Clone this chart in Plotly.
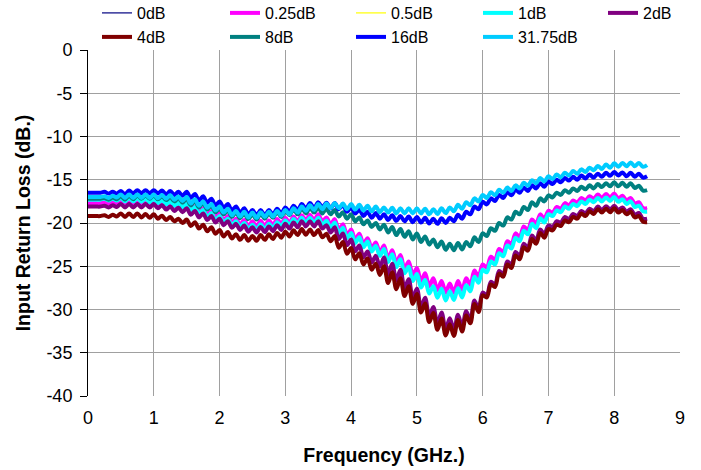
import numpy as np
import plotly.graph_objects as go

# Frequency sweep grid (GHz), one sample every 0.0625 GHz from 0 to 8.5
FREQ_GHZ = list(np.round(np.arange(137) * 0.0625, 4))

DB_025 = [
    -17.7, -17.7, -17.7, -17.7, -17.6, -17.8, -17.55, -17.75, -17.4, -17.8, -17.4, -17.8, -17.4, -17.8, -17.4, -17.8,
    -17.4, -17.85, -17.5, -17.95, -17.6, -18.1, -17.75, -18.25, -17.8, -18.55, -18.05, -18.8, -18.3, -19.05, -18.6, -19.35,
    -18.9, -19.65, -19.2, -19.95, -19.5, -20.2, -19.65, -20.35, -19.8, -20.4, -19.75, -20.35, -19.7, -20.25, -19.55, -20.1,
    -19.4, -19.95, -19.25, -19.8, -19.1, -19.7, -19.05, -19.65, -19.0, -19.8, -19.35, -20.15, -19.55, -20.75, -20.15, -21.35,
    -20.75, -21.9, -21.25, -22.4, -21.75, -22.9, -22.25, -23.4, -22.6, -24.1, -23.15, -24.6, -23.7, -25.3, -24.45, -26.0,
    -25.2, -26.7, -25.8, -27.3, -26.4, -27.75, -26.7, -28.05, -27.0, -28.05, -26.7, -27.75, -26.4, -27.15, -25.5, -26.25,
    -24.8, -25.15, -23.9, -24.25, -23.0, -23.35, -22.1, -22.45, -21.2, -21.6, -20.4, -20.8, -19.6, -20.1, -19.0, -19.5,
    -18.6, -18.8, -18.15, -18.35, -17.7, -17.95, -17.4, -17.65, -17.1, -17.4, -16.9, -17.2, -16.7, -17.1, -16.65, -17.05,
    -16.6, -17.15, -16.85, -17.4, -17.1, -17.75, -17.6, -18.25, -18.3,
]
DB_1 = [
    -17.3, -17.3, -17.3, -17.3, -17.2, -17.4, -17.2, -17.4, -17.1, -17.5, -17.1, -17.5, -17.1, -17.55, -17.15, -17.6,
    -17.2, -17.7, -17.35, -17.85, -17.5, -18.0, -17.7, -18.2, -17.8, -18.6, -18.15, -18.95, -18.5, -19.3, -18.85, -19.65,
    -19.2, -19.95, -19.5, -20.25, -19.8, -20.5, -20.0, -20.7, -20.2, -20.8, -20.15, -20.75, -20.1, -20.6, -19.9, -20.4,
    -19.7, -20.25, -19.55, -20.1, -19.4, -20.0, -19.4, -20.0, -19.4, -20.2, -19.75, -20.55, -19.95, -21.15, -20.55, -21.75,
    -21.15, -22.3, -21.65, -22.8, -22.15, -23.3, -22.65, -23.8, -23.0, -24.5, -23.6, -25.1, -24.2, -25.8, -25.05, -26.7,
    -25.9, -27.45, -26.6, -28.15, -27.3, -28.65, -27.6, -28.95, -27.9, -28.9, -27.55, -28.6, -27.2, -27.9, -26.2, -26.9,
    -25.4, -25.7, -24.45, -24.8, -23.5, -23.85, -22.6, -22.95, -21.7, -22.1, -20.9, -21.3, -20.1, -20.6, -19.45, -19.95,
    -19.0, -19.2, -18.55, -18.75, -18.1, -18.35, -17.8, -18.05, -17.5, -17.8, -17.3, -17.6, -17.1, -17.5, -17.05, -17.45,
    -17.0, -17.55, -17.25, -17.8, -17.5, -18.15, -18.0, -18.65, -18.7,
]
DB_2 = [
    -18.1, -18.1, -18.1, -18.1, -18.0, -18.2, -17.95, -18.15, -17.8, -18.2, -17.8, -18.2, -17.8, -18.2, -17.8, -18.2,
    -17.8, -18.3, -17.95, -18.45, -18.1, -18.6, -18.25, -18.75, -18.3, -19.05, -18.6, -19.35, -18.9, -19.65, -19.2, -19.95,
    -19.5, -20.25, -19.8, -20.55, -20.1, -20.8, -20.3, -21.0, -20.5, -21.1, -20.45, -21.05, -20.4, -20.95, -20.25, -20.8,
    -20.1, -20.65, -19.95, -20.5, -19.8, -20.4, -19.8, -20.4, -19.8, -20.65, -20.25, -21.1, -20.5, -21.85, -21.2, -22.55,
    -21.9, -23.25, -22.6, -23.95, -23.3, -24.55, -23.8, -25.05, -24.0, -25.95, -24.7, -26.65, -25.4, -27.55, -26.5, -28.65,
    -27.6, -29.75, -28.65, -30.8, -29.7, -31.65, -30.35, -32.3, -31.0, -32.4, -30.6, -32.0, -30.2, -31.2, -28.95, -29.95,
    -28.05, -28.35, -26.8, -27.1, -25.55, -25.9, -24.45, -24.8, -23.35, -23.8, -22.4, -22.85, -21.45, -22.0, -20.75, -21.3,
    -20.3, -20.45, -19.8, -19.95, -19.3, -19.55, -18.95, -19.2, -18.6, -18.9, -18.35, -18.65, -18.1, -18.5, -18.05, -18.45,
    -18.0, -18.5, -18.2, -18.7, -18.4, -19.05, -18.85, -19.5, -19.5,
]
DB_4 = [
    -19.2, -19.2, -19.2, -19.2, -19.1, -19.3, -19.05, -19.25, -18.9, -19.3, -18.9, -19.3, -18.9, -19.35, -18.95, -19.4,
    -19.0, -19.5, -19.15, -19.65, -19.3, -19.8, -19.5, -20.0, -19.6, -20.35, -19.9, -20.65, -20.2, -20.95, -20.5, -21.25,
    -20.8, -21.55, -21.05, -21.8, -21.3, -21.95, -21.4, -22.05, -21.5, -22.05, -21.4, -21.95, -21.3, -21.85, -21.15, -21.7,
    -21.0, -21.55, -20.85, -21.4, -20.7, -21.35, -20.75, -21.4, -20.8, -21.65, -21.25, -22.1, -21.5, -22.85, -22.2, -23.55,
    -22.9, -24.2, -23.5, -24.8, -24.1, -25.4, -24.7, -26.0, -25.0, -26.95, -25.7, -27.65, -26.4, -28.45, -27.3, -29.35,
    -28.2, -30.35, -29.3, -31.45, -30.4, -32.35, -31.05, -33.0, -31.7, -33.05, -31.2, -32.55, -30.7, -31.6, -29.35, -30.3,
    -28.35, -28.6, -27.1, -27.4, -25.85, -26.2, -24.8, -25.2, -23.75, -24.2, -22.8, -23.2, -21.85, -22.4, -21.15, -21.7,
    -20.7, -20.85, -20.2, -20.35, -19.7, -19.9, -19.3, -19.5, -18.9, -19.2, -18.65, -18.95, -18.4, -18.8, -18.35, -18.75,
    -18.3, -18.8, -18.5, -19.0, -18.7, -19.35, -19.2, -19.85, -19.9,
]
DB_8 = [
    -17.2, -17.2, -17.2, -17.2, -17.1, -17.3, -17.05, -17.25, -16.9, -17.3, -16.85, -17.25, -16.8, -17.2, -16.8, -17.2,
    -16.8, -17.25, -16.9, -17.35, -17.0, -17.5, -17.15, -17.65, -17.2, -17.95, -17.45, -18.2, -17.7, -18.45, -18.0, -18.75,
    -18.3, -19.0, -18.55, -19.3, -18.8, -19.45, -18.9, -19.55, -19.0, -19.6, -18.95, -19.5, -18.9, -19.4, -18.75, -19.3,
    -18.6, -19.1, -18.45, -19.0, -18.3, -18.9, -18.25, -18.8, -18.2, -18.9, -18.35, -19.0, -18.5, -19.25, -18.75, -19.5,
    -19.0, -19.8, -19.35, -20.15, -19.7, -20.45, -20.0, -20.75, -20.2, -21.1, -20.45, -21.4, -20.7, -21.6, -20.95, -21.9,
    -21.2, -22.2, -21.55, -22.5, -21.9, -22.8, -22.15, -23.1, -22.4, -23.15, -22.3, -23.05, -22.2, -22.7, -21.65, -22.2,
    -21.2, -21.5, -20.6, -20.9, -20.0, -20.3, -19.35, -19.6, -18.7, -19.0, -18.15, -18.5, -17.6, -18.0, -17.15, -17.5,
    -16.8, -17.05, -16.5, -16.75, -16.2, -16.5, -16.0, -16.3, -15.8, -16.1, -15.65, -16.0, -15.5, -15.85, -15.4, -15.75,
    -15.3, -15.75, -15.35, -15.8, -15.4, -15.95, -15.7, -16.25, -16.2,
]
DB_16 = [
    -16.5, -16.5, -16.5, -16.5, -16.4, -16.6, -16.4, -16.6, -16.3, -16.7, -16.25, -16.6, -16.2, -16.6, -16.2, -16.6,
    -16.2, -16.6, -16.25, -16.7, -16.3, -16.75, -16.4, -16.85, -16.4, -17.1, -16.65, -17.4, -16.9, -17.65, -17.2, -17.95,
    -17.5, -18.25, -17.8, -18.55, -18.1, -18.8, -18.3, -19.0, -18.5, -19.1, -18.5, -19.1, -18.5, -19.0, -18.35, -18.9,
    -18.2, -18.7, -18.0, -18.5, -17.8, -18.35, -17.7, -18.25, -17.6, -18.2, -17.65, -18.3, -17.7, -18.4, -17.95, -18.7,
    -18.2, -18.9, -18.45, -19.2, -18.7, -19.4, -18.85, -19.5, -19.0, -19.65, -19.1, -19.75, -19.2, -19.8, -19.25, -19.9,
    -19.3, -19.95, -19.4, -20.05, -19.5, -20.1, -19.45, -20.0, -19.4, -19.8, -19.05, -19.5, -18.7, -19.0, -18.1, -18.4,
    -17.55, -17.85, -17.15, -17.45, -16.75, -17.1, -16.45, -16.8, -16.15, -16.5, -15.9, -16.3, -15.65, -16.0, -15.4, -15.8,
    -15.2, -15.5, -15.0, -15.3, -14.8, -15.1, -14.65, -15.0, -14.5, -14.85, -14.4, -14.75, -14.3, -14.65, -14.2, -14.55,
    -14.1, -14.5, -14.15, -14.6, -14.2, -14.65, -14.3, -14.75, -14.6,
]
DB_3175 = [
    -17.0, -17.0, -17.0, -17.0, -16.9, -17.1, -16.85, -17.05, -16.7, -17.1, -16.7, -17.1, -16.7, -17.1, -16.7, -17.1,
    -16.7, -17.15, -16.75, -17.2, -16.8, -17.3, -16.95, -17.45, -17.0, -17.75, -17.25, -18.0, -17.5, -18.25, -17.8, -18.55,
    -18.1, -18.8, -18.35, -19.1, -18.6, -19.25, -18.7, -19.35, -18.8, -19.4, -18.75, -19.3, -18.7, -19.25, -18.6, -19.15,
    -18.5, -19.0, -18.3, -18.8, -18.1, -18.6, -17.95, -18.5, -17.8, -18.4, -17.75, -18.3, -17.7, -18.3, -17.75, -18.4,
    -17.8, -18.45, -17.9, -18.55, -18.0, -18.65, -18.1, -18.75, -18.2, -18.8, -18.25, -18.9, -18.3, -18.9, -18.3, -18.9,
    -18.3, -18.9, -18.35, -19.0, -18.4, -18.95, -18.3, -18.85, -18.2, -18.65, -17.9, -18.35, -17.6, -17.95, -17.15, -17.5,
    -16.75, -17.1, -16.45, -16.8, -16.15, -16.5, -15.9, -16.3, -15.65, -16.0, -15.35, -15.7, -15.05, -15.4, -14.8, -15.2,
    -14.6, -14.9, -14.4, -14.7, -14.2, -14.5, -14.0, -14.3, -13.8, -14.1, -13.6, -13.9, -13.4, -13.75, -13.25, -13.6,
    -13.1, -13.5, -13.05, -13.45, -13.0, -13.45, -13.05, -13.5, -13.3,
]
# 0 dB and 0.5 dB states overlap the 0.25 dB and 1 dB traces (hidden beneath them)
DB_0 = list(DB_025)
DB_05 = list(DB_1)

SERIES_NAMES = ["0dB", "0.25dB", "0.5dB", "1dB", "2dB", "4dB", "8dB", "16dB", "31.75dB"]
SERIES_VALUES = [DB_0, DB_025, DB_05, DB_1, DB_2, DB_4, DB_8, DB_16, DB_3175]
SERIES_COLORS = ["#000080", "#FF00FF", "#FFFF00", "#00FFFF", "#800080",
                 "#800000", "#008080", "#0000FF", "#00CCFF"]
SERIES_WIDTHS = [1.2, 4, 1.2, 4, 4, 4, 4, 4, 4]

Y_TICK_VALUES = [-40, -35, -30, -25, -20, -15, -10, -5, 0]
Y_TICK_LABELS = ["-40", "-35", "-30", "-25", "-20", "-15", "-10", "-5", "0"]

FONT = "Arial, 'Liberation Sans', sans-serif"

# legend entries laid out in a 5-column grid (left edge px, row centre px)
LEG_COL_PX = [97, 225, 351, 478, 603]
LEG_ROW_PX = [13, 37]
PLOT_L, PLOT_R, PLOT_T, PLOT_B = 88, 680, 50, 396

fig = go.Figure()
layout_legends = {}
for i, (name, vals, color, w) in enumerate(zip(SERIES_NAMES, SERIES_VALUES, SERIES_COLORS, SERIES_WIDTHS)):
    assert len(vals) == len(FREQ_GHZ), name
    key = "legend" if i == 0 else f"legend{i + 1}"
    fig.add_trace(go.Scatter(x=FREQ_GHZ, y=vals, name=name, mode="lines",
                             line=dict(color=color, width=w, shape="spline", smoothing=1.0),
                             legend=key))
    col, row = i % 5, i // 5
    layout_legends[key] = dict(
        x=(LEG_COL_PX[col] - PLOT_L) / (PLOT_R - PLOT_L),
        y=(PLOT_B - LEG_ROW_PX[row]) / (PLOT_B - PLOT_T),
        xanchor="left", yanchor="middle",
        font=dict(size=16, family=FONT, color="black"),
        bgcolor="rgba(0,0,0,0)", borderwidth=0,
    )

fig.update_layout(
    width=701, height=470,
    margin=dict(l=PLOT_L, r=701 - PLOT_R, t=PLOT_T, b=470 - PLOT_B, autoexpand=False),
    paper_bgcolor="white", plot_bgcolor="white",
    font=dict(family=FONT, color="black", size=18),
    showlegend=True,
    xaxis=dict(range=[0, 9], dtick=1, tick0=0, showgrid=True, gridcolor="#a0a0a0", gridwidth=1,
               zeroline=False, showline=False, ticks="", automargin=False,
               tickfont=dict(size=18), ticklabelstandoff=9,
               title=dict(text="<b>Frequency (GHz.)</b>", font=dict(size=19.5), standoff=21)),
    yaxis=dict(range=[-40, 0], tickvals=Y_TICK_VALUES, ticktext=Y_TICK_LABELS,
               showgrid=True, gridcolor="#a0a0a0", gridwidth=1,
               zeroline=False, showline=True, linecolor="black", linewidth=1,
               ticks="outside", ticklen=7, tickcolor="black", automargin=False,
               tickfont=dict(size=18), ticklabelstandoff=4,
               title=dict(text="<b>Input Return Loss (dB.)</b>", font=dict(size=19.5), standoff=10)),
    **layout_legends,
)
fig.write_html("out.html", config={"displayModeBar": False},
               post_script="document.body.style.margin='0px';")
